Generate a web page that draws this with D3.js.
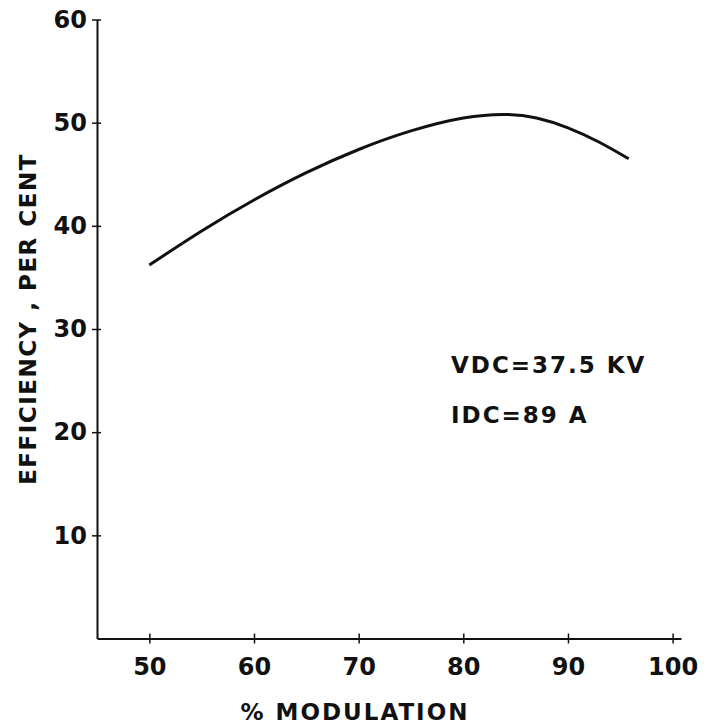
<!DOCTYPE html>
<html>
<head>
<meta charset="utf-8">
<script src="https://cdn.jsdelivr.net/npm/d3@7"></script>
<style>
  body { margin: 0; background: #fff; }
  text { font-family: "DejaVu Sans", sans-serif; font-weight: bold; fill: #111; }
</style>
</head>
<body>
<svg></svg>
<script>
var svgWidth = 709, svgHeight = 728;

// curve
var modulation = [50, 55, 60, 65, 70, 75, 80, 84, 87, 90, 93, 95.8];
var efficiency = [36.2, 39.5, 42.5, 45.15, 47.4, 49.2, 50.45, 50.8, 50.45, 49.5, 48.1, 46.5];

var xTicks = [50, 60, 70, 80, 90, 100];
var yTicks = [10, 20, 30, 40, 50, 60];
var notes = ["VDC=37.5 KV", "IDC=89 A"];

var svg = d3.select("svg")
            .attr("width", svgWidth)
            .attr("height", svgHeight);

var x = d3.scaleLinear().domain([45, 100.8]).range([97, 681]);
var y = d3.scaleLinear().domain([0, 60]).range([638.5, 19.5]);

// axes, ticks cross the line
var xAxis = svg.append("g")
    .attr("transform", "translate(0," + y(0) + ")")
    .call(d3.axisBottom(x).tickValues(xTicks).tickSizeInner(5).tickSizeOuter(0).tickPadding(14));
xAxis.selectAll(".tick line").attr("y1", -5);

var yAxis = svg.append("g")
    .attr("transform", "translate(" + x(45) + ",0)")
    .call(d3.axisLeft(y).tickValues(yTicks).tickSizeInner(5).tickSizeOuter(0).tickPadding(5));
yAxis.selectAll(".tick line").attr("x1", 4);

svg.selectAll(".domain").attr("stroke", "#111").attr("stroke-width", 2);
svg.selectAll(".tick line").attr("stroke", "#111").attr("stroke-width", 1.5);
svg.selectAll(".tick text")
    .style("font-family", "DejaVu Sans, sans-serif")
    .style("font-weight", "bold")
    .style("font-size", "24px")
    .attr("fill", "#111");

var pts = modulation.map(function(m, i) { return [m, efficiency[i]]; });

var line = d3.line()
    .x(function(d) { return x(d[0]); })
    .y(function(d) { return y(d[1]); })
    .curve(d3.curveNatural);

svg.append("path")
    .datum(pts)
    .attr("fill", "none")
    .attr("stroke", "#111")
    .attr("stroke-width", 3)
    .attr("d", line);

// axis titles
svg.append("text")
    .attr("x", 355)
    .attr("y", 720)
    .attr("text-anchor", "middle")
    .style("font-size", "23px")
    .style("letter-spacing", "2px")
    .text("%  MODULATION");

svg.append("text")
    .attr("transform", "translate(36,319) rotate(-90)")
    .attr("text-anchor", "middle")
    .style("font-size", "23px")
    .style("letter-spacing", "1.5px")
    .text("EFFICIENCY , PER CENT");

// operating point note
svg.selectAll(".note")
    .data(notes)
    .enter().append("text")
    .attr("class", "note")
    .attr("x", 451)
    .attr("y", function(d, i) { return 373 + i * 50; })
    .style("font-size", "23px")
    .style("letter-spacing", "2px")
    .text(function(d) { return d; });
</script>
</body>
</html>
